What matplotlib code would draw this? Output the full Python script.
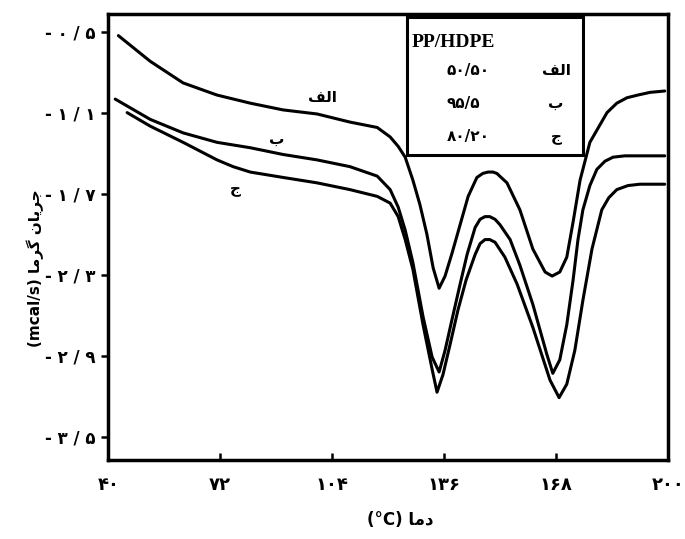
import numpy as np
import matplotlib
matplotlib.use("Agg")
import matplotlib.pyplot as plt
from matplotlib.patches import Rectangle

plt.rcParams['font.family'] = ['DejaVu Sans']

# Persian text is written in Arabic presentation forms, in visual order,
# because matplotlib does no shaping or bidi
YLABEL = "(mcal/s) \uFE8E\uFEE3\uFEAE\uFB94 \uFEE5\uFE8E\uFEF3\uFEAE\uFE9F"
XLABEL = "(\u00b0C) \uFE8E\uFEE3\uFEA9"
LBL_A = "\uFED2\uFEDF\uFE8D"   # الف
LBL_B = "\u0628"               # ب
LBL_C = "\u062C"               # ج

xticks = [40, 72, 104, 136, 168, 200]
xtick_labels = ["۴۰", "۷۲", "۱۰۴", "۱۳۶", "۱۶۸", "۲۰۰"]
yticks = [-0.5, -1.1, -1.7, -2.3, -2.9, -3.5]
ytick_labels = ["- ۰ / ۵", "- ۱ / ۱", "- ۱ / ۷", "- ۲ / ۳", "- ۲ / ۹", "- ۳ / ۵"]

legend_title = "PP/HDPE"
legend_ratios = ["۵۰/۵۰", "۹۵/۵", "۸۰/۲۰"]
legend_names = [LBL_A, LBL_B, LBL_C]

# curve الف (50/50)
a_x = [42.9, 52.0, 61.4, 71.1, 80.6, 90.0, 99.7, 109.1, 116.9, 120.6, 122.9,
       124.9, 127.1, 129.1, 131.1, 132.9, 134.6, 136.3, 138.3, 140.6, 142.9,
       145.4, 147.1, 148.6, 150.0, 151.1, 154.0, 157.7, 161.4, 164.9, 166.9,
       169.1, 171.1, 172.9, 174.9, 177.7, 182.6, 185.4, 188.3, 191.4, 194.9,
       199.1]
a_y = [-0.53, -0.72, -0.88, -0.97, -1.03, -1.08, -1.11, -1.17, -1.21, -1.28,
       -1.35, -1.43, -1.60, -1.78, -2.00, -2.25, -2.40, -2.31, -2.14, -1.93,
       -1.72, -1.58, -1.55, -1.54, -1.54, -1.55, -1.62, -1.82, -2.11, -2.28,
       -2.31, -2.28, -2.17, -1.91, -1.60, -1.32, -1.10, -1.03, -0.99, -0.97,
       -0.95, -0.94]

# curve ب (95/5)
b_x = [42.0, 52.0, 61.4, 71.1, 80.6, 90.0, 99.7, 109.1, 116.9, 120.6, 122.9,
       124.9, 127.1, 130.0, 132.6, 134.6, 136.3, 138.3, 140.6, 142.6, 144.9,
       146.3, 147.7, 149.1, 150.6, 152.0, 154.9, 157.7, 161.4, 165.4, 167.1,
       169.1, 171.1, 172.9, 174.3, 175.7, 177.7, 179.7, 182.0, 184.3, 187.7,
       192.0, 199.1]
b_y = [-1.00, -1.15, -1.25, -1.32, -1.36, -1.41, -1.45, -1.50, -1.57, -1.67,
       -1.80, -1.97, -2.21, -2.61, -2.91, -3.02, -2.86, -2.63, -2.37, -2.15,
       -1.95, -1.89, -1.87, -1.87, -1.89, -1.93, -2.04, -2.23, -2.52, -2.89,
       -3.03, -2.93, -2.67, -2.34, -2.04, -1.82, -1.64, -1.52, -1.46, -1.43,
       -1.42, -1.42, -1.42]

# curve ج (80/20)
c_x = [45.4, 52.0, 61.4, 71.1, 75.7, 80.6, 90.0, 99.7, 109.1, 116.9, 120.6,
       122.9, 124.9, 127.1, 130.0, 132.6, 134.0, 135.7, 137.7, 140.0, 142.3,
       144.9, 146.3, 147.7, 149.1, 150.6, 153.4, 156.9, 161.4, 166.3, 168.9,
       171.1, 173.4, 175.7, 178.3, 181.1, 183.1, 185.4, 188.6, 192.0, 199.1]
c_y = [-1.10, -1.20, -1.32, -1.45, -1.50, -1.54, -1.58, -1.62, -1.67, -1.72,
       -1.77, -1.87, -2.04, -2.26, -2.67, -3.00, -3.17, -3.04, -2.82, -2.56,
       -2.34, -2.15, -2.07, -2.04, -2.04, -2.06, -2.17, -2.37, -2.69, -3.08,
       -3.21, -3.11, -2.86, -2.49, -2.11, -1.82, -1.73, -1.67, -1.64, -1.63,
       -1.63]

fig = plt.figure(figsize=(6.85, 5.39), dpi=100)
ax = fig.add_axes([0.158, 0.147, 0.817, 0.827])

for xs, ys in [(a_x, a_y), (b_x, b_y), (c_x, c_y)]:
    ax.plot(xs, ys, color="black", lw=2.2, solid_capstyle="round",
            solid_joinstyle="round")

ax.set_xlim(40, 200)
ax.set_ylim(-3.67, -0.37)

ax.set_xticks(xticks)
ax.set_xticklabels(xtick_labels, fontsize=13, fontweight="bold")
ax.set_yticks(yticks)
ax.set_yticklabels(ytick_labels, fontsize=12, fontweight="bold")
ax.tick_params(axis="x", direction="in", length=5, width=1.8, pad=12)
ax.tick_params(axis="y", direction="out", length=5, width=1.8, pad=4)

for s in ax.spines.values():
    s.set_linewidth(2.5)

# curve labels
ax.text(101.1, -0.99, LBL_A, fontsize=11, fontweight="bold", ha="center", va="center")
ax.text(88.3, -1.30, LBL_B, fontsize=11, fontweight="bold", ha="center", va="center")
ax.text(76.3, -1.66, LBL_C, fontsize=11, fontweight="bold", ha="center", va="center")

# legend box
ax.add_patch(Rectangle((0.534, 0.684), 0.314, 0.309, transform=ax.transAxes,
                       fill=False, lw=2.2, ec="black"))
ax.text(0.543, 0.937, legend_title, transform=ax.transAxes, fontsize=14,
        fontweight="bold", family="Liberation Serif", va="center", ha="left")
rows_y = [0.874, 0.800, 0.726]
for ry, ratio, name in zip(rows_y, legend_ratios, legend_names):
    ax.text(0.605, ry, ratio, transform=ax.transAxes, fontsize=11,
            fontweight="bold", va="center", ha="left")
    ax.text(0.80, ry, name, transform=ax.transAxes, fontsize=11,
            fontweight="bold", va="center", ha="center")

fig.text(35 / 685, 1 - 268 / 539, YLABEL, rotation=90, fontsize=11,
         fontweight="bold", ha="center", va="center")
fig.text(400 / 685, 1 - 520 / 539, XLABEL, fontsize=12, fontweight="bold",
         ha="center", va="center")

fig.savefig("out.png", dpi=100)
